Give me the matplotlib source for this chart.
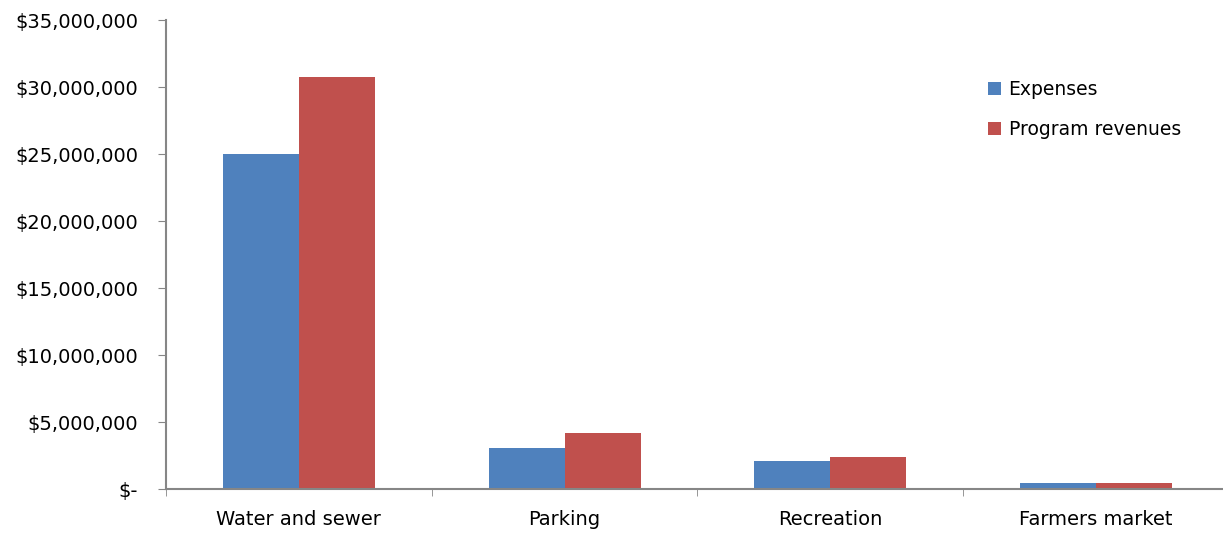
import numpy as np
import matplotlib.pyplot as plt
from matplotlib.ticker import FuncFormatter

categories = ["Water and sewer", "Parking", "Recreation", "Farmers market"]
expenses = [25000000, 3100000, 2110000, 470000]
revenues = [30770000, 4200000, 2390000, 450000]

plt.rcParams["font.family"] = ["DejaVu Sans"]

fig = plt.figure(figsize=(12.23, 5.34), dpi=100)
ax = fig.add_axes([0.1357, 0.0837, 0.8692, 0.8788])

x = np.arange(len(categories))
w = 0.286
ax.bar(x - w / 2, expenses, w, color="#4F81BD", label="Expenses")
ax.bar(x + w / 2, revenues, w, color="#C0504D", label="Program revenues")

ax.set_xlim(-0.5, len(categories) - 0.5)
ax.set_ylim(0, 35000000)
ax.set_yticks(np.arange(0, 35000001, 5000000))

def money(v, pos):
    if v == 0:
        return "$-"
    return "${:,.0f}".format(v)

ax.yaxis.set_major_formatter(FuncFormatter(money))
ax.set_xticks(x)
ax.set_xticklabels(categories)
ax.set_xticks(np.arange(-0.5, len(categories), 1), minor=True)
ax.tick_params(axis="x", which="major", length=0, pad=15, labelsize=14)
ax.tick_params(axis="x", which="minor", length=5, color="#868686", direction="out")
ax.tick_params(axis="y", length=6, color="#868686", pad=14, labelsize=14)

for s in ["top", "right"]:
    ax.spines[s].set_visible(False)
for s in ["left", "bottom"]:
    ax.spines[s].set_color("#868686")
    ax.spines[s].set_linewidth(1.5)

ax.legend(loc="upper left", bbox_to_anchor=(988 / 1223, 1 - 80 / 534),
          bbox_transform=fig.transFigure, frameon=False, borderpad=0,
          borderaxespad=0, fontsize=13.5, handlelength=0.7, handleheight=0.7,
          handletextpad=0.4, labelspacing=1.1)

fig.savefig("out.png", dpi=100)
